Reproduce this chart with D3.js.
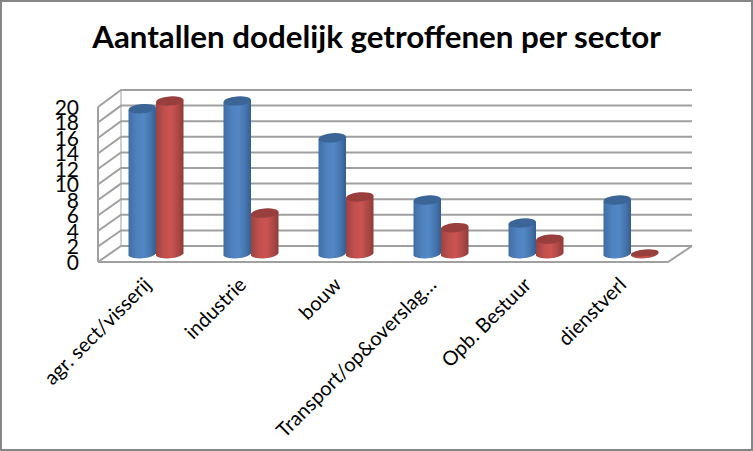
<!DOCTYPE html>
<html><head><meta charset="utf-8">
<script src="https://cdn.jsdelivr.net/npm/d3@7/dist/d3.min.js"></script>
<style>html,body{margin:0;padding:0;background:#fff}svg{display:block}text{font-family:Lato,"Open Sans",sans-serif;fill:#000}</style>
</head><body><svg id="c" width="753" height="451"></svg>
<script>
const title = "Aantallen dodelijk getroffenen per sector";
const categories = ["agr. sect/visserij","industrie","bouw","Transport/op&overslag…","Opb. Bestuur","dienstverl"];
const blueValues = [19,20,15.2,7.1,4.1,7.1];
const redValues = [20,5.4,7.5,3.5,2,0.2];
const yTicks = [0,2,4,6,8,10,12,14,16,18,20];

const svg = d3.select("#c");
const W=753,H=451;
svg.append("rect").attr("x",1).attr("y",1).attr("width",W-2).attr("height",H-2).attr("fill","#fff").attr("stroke","#868686").attr("stroke-width",2);
const defs = svg.append("defs");
function grad(id,stops){const g=defs.append("linearGradient").attr("id",id);
 stops.forEach(s=>g.append("stop").attr("offset",s[0]).attr("stop-color",s[1]));}
grad("gb",[[0,"#3e6ea6"],[.3,"#4f81bd"],[.55,"#5287c6"],[.8,"#4675ad"],[1,"#355e91"]]);
grad("gr",[[0,"#9c4341"],[.3,"#c0504d"],[.55,"#cb5451"],[.8,"#ad4846"],[1,"#8e3c3a"]]);

const frontY = d3.scaleLinear().domain([0,20]).range([262,107]);
const backY = d3.scaleLinear().domain([0,20]).range([246,90]);
const barY = d3.scaleLinear().domain([0,20]).range([254.5,101]);
const labelY = d3.scaleLinear().domain([0,20]).range([262,107]);
const fx0=98,bx0=121,bx1=692,fx1=668;
const gridColor="#a0a0a0";
const wall=svg.append("g").attr("fill","none").attr("stroke",gridColor).attr("stroke-width",2);
yTicks.forEach(t=>{
 wall.append("path").attr("d",d3.line()([[fx0,frontY(t)],[bx0,backY(t)],[bx1,backY(t)]]));
});
wall.append("path").attr("d",d3.line()([[bx0,backY(0)],[bx0,backY(20)]])).attr("stroke-width",1);
wall.append("path").attr("d",d3.line()([[fx0,frontY(0)],[fx0,frontY(20)]]));
wall.append("path").attr("d",d3.line()([[fx0,frontY(0)],[fx1,frontY(0)],[bx1,backY(0)]]));
svg.append("g").selectAll("text").data(yTicks).join("text")
 .attr("x",79).attr("y",d=>labelY(d)+7.5).attr("text-anchor","end")
 .attr("font-size",21).text(d=>d);
const x=d3.scaleBand().domain(categories).range([108,678]).paddingInner(0).paddingOuter(0);
const bw=27.5, rx=13.75, ry=4.6, tilt=-5;
function bar(cx,v,fill,dark){
 const yt=barY(v), yb=barY(0), dy=rx*Math.tan(-tilt*Math.PI/180);
 const g=svg.append("g");
 g.append("path").attr("fill",`url(#${fill})`)
  .attr("d",`M${cx-rx},${yt+dy} L${cx-rx},${yb+dy} A${rx+.3},${ry} ${tilt} 0 0 ${cx+rx},${yb-dy} L${cx+rx},${yt-dy} Z`);
 g.append("ellipse").attr("cx",cx).attr("cy",yt).attr("rx",rx).attr("ry",v<1?ry-1.2:ry)
  .attr("transform",`rotate(${tilt} ${cx} ${yt})`).attr("fill",dark);
}
categories.forEach((c,i)=>{
 const m=x(c)+x.bandwidth()/2;
 bar(m-bw/2+.5,blueValues[i],"gb","#3b6596");
 bar(m+bw/2+.5,redValues[i],"gr","#983e3c");
});
svg.append("g").selectAll("text").data(categories).join("text")
 .attr("transform",d=>`translate(${x(d)+x.bandwidth()/2-3},${286}) rotate(-45)`)
 .attr("text-anchor","end").attr("font-size",20).text(d=>d);
svg.append("text").attr("x",376.5).attr("y",48).attr("text-anchor","middle").attr("font-size",31.3).attr("font-weight",700).text(title);
</script></body></html>
